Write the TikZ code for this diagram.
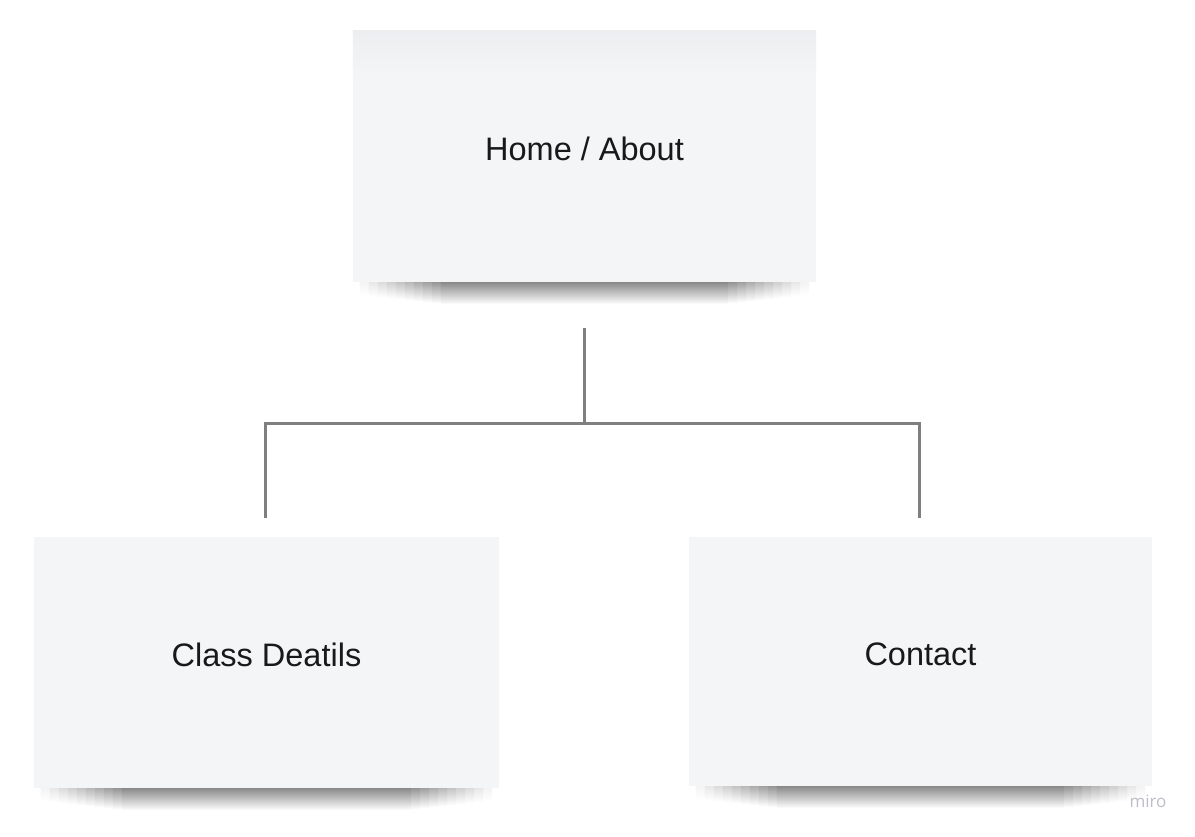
\documentclass[tikz,border=0pt]{standalone}
\usepackage{fontspec}
\setmainfont{Liberation Sans}
\newfontfamily\mirofont{Open Sans}
\usetikzlibrary{positioning,backgrounds,calc}
\definecolor{cardfill}{HTML}{F4F5F7}
\definecolor{cardtop}{HTML}{EDEEF0}
\definecolor{linkgray}{HTML}{7F7F7F}
\definecolor{mirogray}{HTML}{BDBEC8}
\definecolor{shadowgray}{HTML}{8A8A8A}
\tikzset{
  card/.style={fill=cardfill,minimum width=463pt,minimum height=251pt,inner sep=0pt,
    text=black!90,font=\fontsize{32.5}{38}\selectfont,text height=24pt,text depth=16pt},
  link/.style={draw=linkgray,line width=3pt}
}
% soft shadow under a card, lighter towards its ends
\newcommand{\cardshadow}[1]{
  \begin{scope}[on background layer]
    \foreach \i in {1,...,10}
      \shade[top color=shadowgray!\the\numexpr\i*10\relax!white,bottom color=white]
        ($(#1.south west)+(-2pt+9*\i pt,0pt)$) rectangle ($(#1.south east)+(2pt-9*\i pt,-12pt-1*\i pt)$);
  \end{scope}
}

\begin{document}
\begin{tikzpicture}[x=1pt, y=-1pt]
            \useasboundingbox (0,0) rectangle (1195,836);
            \begin{scope}[on background layer]
              \fill[white] (0,0) rectangle (1195,836);
            \end{scope}

            \node[card] (home)    at (584.5,156.5) {Home / About};
            \node[card,minimum width=465pt] (class) at (266.5,662.5) {Class Deatils};
            \node[card,minimum height=249pt] (contact) at (920.5,661.5) {Contact};

            % darker strip at the top of the first card
            \fill[top color=cardtop,bottom color=cardfill] (home.north west) rectangle ($(home.north east)+(0pt,-45pt)$);

            \cardshadow{home}
            \cardshadow{class}
            \cardshadow{contact}

            \coordinate (home_out)   at (584,328);
            \coordinate (split)      at (584,423);
            \coordinate (class_in)   at (265,518);
            \coordinate (contact_in) at (919,518);

            \draw[link] (home_out) -- (split);
            \draw[link] (class_in) |- (split) -| (contact_in);

            \node[text=mirogray,font=\mirofont\fontsize{17}{20}\selectfont] (miro) at (1148,801) {miro};
        \end{tikzpicture}
\end{document}
